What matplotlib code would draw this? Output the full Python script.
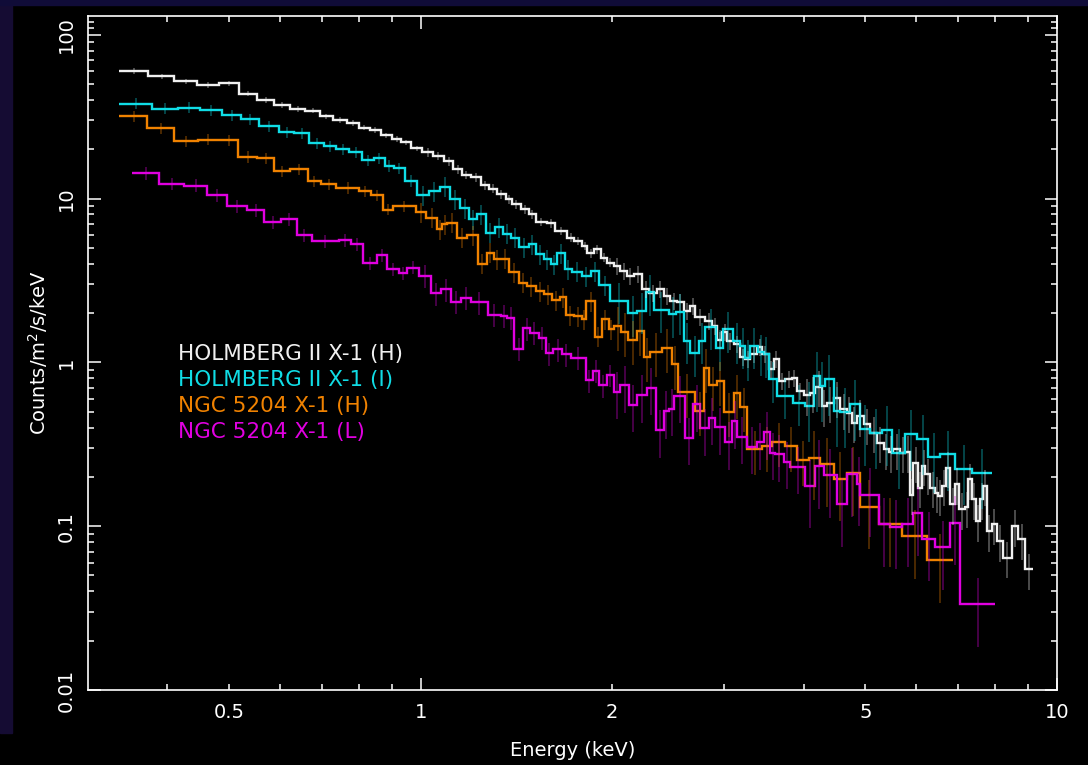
import numpy as np
import matplotlib
matplotlib.use('Agg')
import matplotlib.pyplot as plt
from matplotlib.patches import Rectangle
from matplotlib.ticker import FixedLocator, NullFormatter

# Holmberg II X-1, high state (white)
hoii_h_edges = [0.336, 0.373, 0.410, 0.445, 0.482, 0.518, 0.553, 0.588, 0.623, 0.658,
                0.694, 0.727, 0.765, 0.799, 0.832, 0.866, 0.901, 0.932, 0.965, 1.006,
                1.047, 1.086, 1.126, 1.162, 1.198, 1.242, 1.280, 1.319, 1.360, 1.393,
                1.435, 1.479, 1.515, 1.581, 1.628, 1.699, 1.741, 1.794, 1.828, 1.872,
                1.917, 1.963, 2.010, 2.059, 2.108, 2.162, 2.228, 2.284, 2.352, 2.410,
                2.466, 2.529, 2.591, 2.653, 2.701, 2.802, 2.871, 2.923, 2.976, 3.030,
                3.103, 3.179, 3.237, 3.297, 3.378, 3.439, 3.522, 3.586, 3.651, 3.741,
                3.832, 3.902, 3.996, 4.094, 4.170, 4.272, 4.350, 4.455, 4.564, 4.676,
                4.762, 4.849, 4.966, 5.088, 5.212, 5.338, 5.436, 5.534, 5.670, 5.773,
                5.878, 5.949, 6.058, 6.133, 6.206, 6.319, 6.435, 6.512, 6.592, 6.695,
                6.792, 6.917, 7.025, 7.172, 7.259, 7.348, 7.463, 7.572, 7.663, 7.757,
                7.899, 8.043, 8.220, 8.492, 8.698, 8.910, 9.180]
hoii_h_flux = [60.1, 55.6, 51.8, 49.4, 50.4, 43.7, 40.0, 37.3, 35.1, 34.4,
               31.7, 30.2, 28.9, 27.1, 26.2, 24.3, 23.2, 22.0, 20.2, 19.1,
               18.2, 16.9, 15.1, 13.9, 13.5, 12.05, 11.5, 10.6, 9.9, 9.2,
               8.6, 8.0, 7.2, 7.06, 6.34, 5.77, 5.5, 5.13, 4.63, 4.90,
               4.36, 4.06, 3.87, 3.61, 3.37, 3.45, 2.79, 2.66, 2.79, 2.54,
               2.37, 2.33, 2.06, 2.21, 1.90, 1.787, 1.666, 1.368, 1.525, 1.349,
               1.288, 1.083, 1.043, 1.119, 1.247, 1.119, 0.906, 1.043, 0.769, 0.787,
               0.807, 0.668, 0.629, 0.653, 0.711, 0.541, 0.567, 0.609, 0.516, 0.493,
               0.428, 0.470, 0.418, 0.372, 0.323, 0.294, 0.283, 0.294, 0.281, 0.283,
               0.156, 0.244, 0.172, 0.233, 0.207, 0.172, 0.160, 0.153, 0.176, 0.228,
               0.136, 0.180, 0.127, 0.130, 0.193, 0.146, 0.107, 0.146, 0.176, 0.0933,
               0.1025, 0.0811, 0.0642, 0.100, 0.0830, 0.0544]

# Holmberg II X-1, intermediate state (cyan)
hoii_i_edges = [0.336, 0.378, 0.415, 0.450, 0.487, 0.522, 0.557, 0.599, 0.633, 0.668,
                0.704, 0.737, 0.772, 0.808, 0.843, 0.878, 0.908, 0.944, 0.988, 1.030,
                1.072, 1.112, 1.153, 1.191, 1.224, 1.265, 1.307, 1.348, 1.385, 1.427,
                1.479, 1.515, 1.562, 1.600, 1.639, 1.683, 1.730, 1.794, 1.849, 1.905,
                1.987, 2.119, 2.189, 2.262, 2.324, 2.453, 2.522, 2.590, 2.654, 2.735,
                2.800, 2.915, 2.987, 3.093, 3.179, 3.237, 3.297, 3.385, 3.459, 3.522,
                3.631, 3.847, 4.021, 4.144, 4.235, 4.323, 4.455, 4.564, 4.732, 4.894,
                5.088, 5.307, 5.502, 5.773, 6.022, 6.281, 6.552, 6.917, 7.348, 7.899]
hoii_i_flux = [38.0, 35.4, 35.9, 34.6, 32.2, 30.5, 27.7, 25.3, 25.0, 21.7,
               20.8, 20.0, 19.1, 17.1, 17.6, 15.8, 15.3, 12.8, 10.5, 11.1,
               11.8, 9.9, 8.72, 7.47, 8.01, 6.20, 6.70, 6.11, 5.77, 5.06,
               5.26, 4.57, 4.26, 3.97, 4.63, 3.70, 3.58, 3.37, 3.61, 2.95,
               2.37, 1.99, 2.06, 2.67, 2.09, 1.96, 2.04, 1.349, 1.135, 1.349,
               1.652, 1.230, 1.590, 1.349, 1.257, 1.068, 1.257, 1.151, 1.119, 0.787,
               0.623, 0.567, 0.541, 0.825, 0.717, 0.787, 0.504, 0.497, 0.554, 0.390,
               0.372, 0.386, 0.281, 0.363, 0.342, 0.264, 0.274, 0.224, 0.212]

# NGC 5204 X-1, high state (orange)
ngc_h_edges = [0.336, 0.372, 0.409, 0.446, 0.481, 0.517, 0.553, 0.589, 0.623, 0.664,
               0.697, 0.736, 0.800, 0.835, 0.871, 0.903, 0.982, 1.018, 1.062, 1.082,
               1.101, 1.142, 1.184, 1.230, 1.269, 1.303, 1.335, 1.376, 1.427, 1.471,
               1.515, 1.562, 1.610, 1.655, 1.694, 1.741, 1.794, 1.822, 1.877, 1.924,
               1.975, 2.011, 2.068, 2.119, 2.189, 2.241, 2.296, 2.395, 2.484, 2.534,
               2.702, 2.784, 2.835, 2.923, 2.993, 3.103, 3.179, 3.258, 3.439, 3.566,
               3.741, 3.902, 4.070, 4.246, 4.455, 4.676, 4.894, 5.243, 5.705, 6.245,
               6.874]
ngc_h_flux = [31.7, 26.9, 22.3, 22.9, 22.6, 18.0, 17.6, 14.7, 15.1, 12.7,
              12.2, 11.6, 11.1, 10.5, 8.56, 9.00, 8.28, 7.65, 6.49, 6.96,
              7.13, 5.77, 5.96, 4.01, 4.68, 4.26, 4.30, 3.56, 3.07, 2.91,
              2.73, 2.60, 2.40, 2.51, 1.94, 1.92, 1.83, 2.37, 1.436, 1.83,
              1.590, 1.666, 1.531, 1.368, 1.553, 1.083, 1.156, 1.230, 0.972, 0.656,
              0.504, 0.928, 0.724, 0.769, 0.497, 0.647, 0.536, 0.294, 0.308, 0.326,
              0.308, 0.253, 0.262, 0.238, 0.195, 0.210, 0.1315, 0.1025, 0.0870, 0.0618]

# NGC 5204 X-1, low state (magenta)
ngc_l_edges = [0.352, 0.388, 0.425, 0.461, 0.497, 0.533, 0.568, 0.604, 0.639, 0.674,
               0.743, 0.776, 0.813, 0.853, 0.884, 0.923, 0.953, 0.994, 1.037, 1.078,
               1.115, 1.159, 1.198, 1.275, 1.335, 1.368, 1.401, 1.450, 1.484, 1.533,
               1.571, 1.616, 1.669, 1.720, 1.816, 1.866, 1.905, 1.964, 2.010, 2.059,
               2.123, 2.189, 2.270, 2.339, 2.410, 2.453, 2.504, 2.600, 2.680, 2.752,
               2.835, 2.905, 3.012, 3.085, 3.142, 3.258, 3.378, 3.459, 3.544, 3.608,
               3.718, 3.809, 4.021, 4.170, 4.297, 4.510, 4.676, 4.849, 4.906, 5.243,
               5.468, 5.705, 5.949, 6.133, 6.435, 6.792, 7.043, 7.994]
ngc_l_flux = [14.3, 12.3, 12.0, 10.5, 8.97, 8.51, 7.19, 7.47, 5.99, 5.48,
              5.56, 5.26, 4.02, 4.52, 3.70, 3.50, 3.79, 3.37, 2.64, 2.79,
              2.35, 2.48, 2.33, 1.95, 1.92, 1.875, 1.212, 1.613, 1.518, 1.415,
              1.135, 1.200, 1.119, 1.068, 0.776, 0.885, 0.724, 0.836, 0.659, 0.724,
              0.550, 0.631, 0.701, 0.386, 0.504, 0.521, 0.624, 0.347, 0.554, 0.395,
              0.460, 0.401, 0.326, 0.438, 0.352, 0.306, 0.325, 0.375, 0.281, 0.274,
              0.248, 0.231, 0.176, 0.233, 0.204, 0.136, 0.207, 0.182, 0.156, 0.1025,
              0.0992, 0.1025, 0.120, 0.0838, 0.0745, 0.105, 0.0333]

# fractional 1-sigma errors in the bands <1, 1-2, 2-4, >4 keV
err_band_edges = [1.0, 2.0, 4.0]
hoii_h_err = [0.04, 0.06, 0.12, 0.25]
hoii_i_err = [0.08, 0.14, 0.28, 0.40]
ngc_h_err = [0.08, 0.14, 0.30, 0.45]
ngc_l_err = [0.09, 0.16, 0.32, 0.45]

labels = ['HOLMBERG II X-1 (H)', 'HOLMBERG II X-1 (I)', 'NGC 5204 X-1 (H)', 'NGC 5204 X-1 (L)']
colors = ['#f0f0f0', '#10dde6', '#f08200', '#e000e0']

spectra = [
    (hoii_h_edges, hoii_h_flux, hoii_h_err),
    (hoii_i_edges, hoii_i_flux, hoii_i_err),
    (ngc_h_edges, ngc_h_flux, ngc_h_err),
    (ngc_l_edges, ngc_l_flux, ngc_l_err),
]

fig = plt.figure(figsize=(10.88, 7.65), dpi=100, facecolor='black')
# slide background showing round the edge of the plot
fig.patches.append(Rectangle((0, 32 / 765), 12 / 1088, 1, transform=fig.transFigure,
                             color='#150c33', zorder=0))
fig.patches.append(Rectangle((0, 1 - 5 / 765), 1, 5 / 765, transform=fig.transFigure,
                             color='#100c38', zorder=0))

ax = fig.add_axes([88 / 1088, 75 / 765, 969 / 1088, 674 / 765])
ax.set_facecolor('black')
ax.set_xscale('log')
ax.set_yscale('log')
ax.set_xlim(0.3, 10)
ax.set_ylim(0.01, 130)

for (edges, flux, err), col in zip(spectra, colors):
    edges = np.array(edges)
    flux = np.array(flux)
    centres = 0.5 * (edges[:-1] + edges[1:])
    frac = np.array(err)[np.digitize(centres, err_band_edges)]
    ax.errorbar(centres, flux, yerr=flux * frac, fmt='none', ecolor=col,
                elinewidth=1.1, alpha=0.4, capsize=0)
    ax.stairs(flux, edges, baseline=None, color=col, linewidth=1.7)

for i, (txt, col) in enumerate(zip(labels, colors)):
    ax.text(0.093, 0.499 - i * 0.0386, txt, color=col, fontsize=15.5,
            transform=ax.transAxes, va='center', ha='left')

# PGPLOT-style ticks: decades long, the rest short, all inside
ax.set_xticks([1, 10], ['1', '10'])
ax.set_xticks([0.4, 0.5, 0.6, 0.7, 0.8, 0.9, 2, 3, 4, 5, 6, 7, 8, 9],
              ['', '0.5', '', '', '', '', '2', '', '', '5', '', '', '', ''], minor=True)
ax.set_yticks([0.01, 0.1, 1, 10, 100], ['0.01', '0.1', '1', '10', '100'])
ymin = [m * d for d in [0.01, 0.1, 1, 10] for m in range(2, 10)] + [110, 120]
ax.yaxis.set_minor_locator(FixedLocator(ymin))
ax.yaxis.set_minor_formatter(NullFormatter())

ax.tick_params(which='both', direction='in', colors='white', top=True, right=True,
               labelsize=14, width=1.1)
ax.tick_params(which='major', length=9)
ax.tick_params(which='minor', length=4.5)
ax.tick_params(axis='x', which='both', pad=9)
ax.tick_params(axis='y', which='major', pad=9)
for lab in ax.get_yticklabels():
    lab.set_rotation(90)
    lab.set_verticalalignment('center')
    lab.set_horizontalalignment('right')
for s in ax.spines.values():
    s.set_color('white')
    s.set_linewidth(1.2)

ax.set_xlabel('Energy (keV)', color='white', fontsize=14, labelpad=14)
ax.set_ylabel('Counts/m$^2$/s/keV', color='white', fontsize=14, labelpad=5)

fig.savefig('out.png', dpi=100, facecolor='black')
